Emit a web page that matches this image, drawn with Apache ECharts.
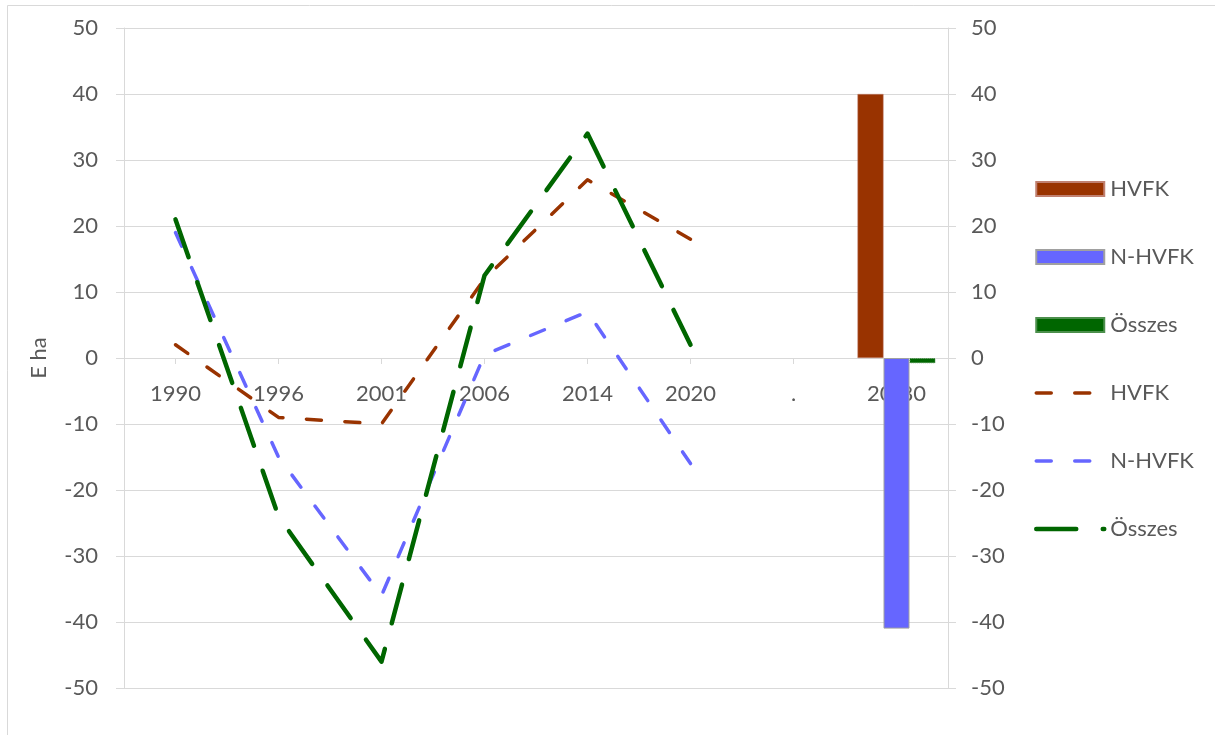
<!DOCTYPE html>
<html>
<head>
<meta charset="utf-8">
<script src="https://cdn.jsdelivr.net/npm/echarts@6/dist/echarts.min.js"></script>
<style>
html,body{margin:0;padding:0;background:#fff;}
#chart{width:1215px;height:735px;}
</style>
</head>
<body>
<div id="chart"></div>
<script>
const categories = ['1990', '1996', '2001', '2006', '2014', '2020', '.', '20-80'];
const hvfkLine   = [2, -9, -10, 12, 27, 18, null, null];
const nhvfkLine  = [19, -15, -36, 0.5, 7, -16, null, null];
const osszesLine = [21, -24, -46, 12.5, 34, 2, null, null];
const hvfkBar    = [null, null, null, null, null, null, null, 40];
const nhvfkBar   = [null, null, null, null, null, null, null, -41];
const osszesBar  = [null, null, null, null, null, null, null, -0.8];
const yTicks = { min: -50, max: 50, interval: 10 };

const FONT = 'Lato';
const TXT = '#595959';
const GRID = '#d9d9d9';
const GRID_TOP = 28, GRID_BOTTOM = 47, H = 735;
// the category axis crosses the value axis at 0 (middle of the -50..50 range)
const plotH = H - GRID_TOP - GRID_BOTTOM;
const zeroOffset = -plotH * (0 - yTicks.min) / (yTicks.max - yTicks.min);

const chart = echarts.init(document.getElementById('chart'));

function lineSeries(name, data, color, width, dash) {
  return {
    name: name, type: 'line', data: data, yAxisIndex: 0,
    symbol: 'none', connectNulls: false, z: 12,
    lineStyle: { color: color, width: width, type: dash, cap: 'round', join: 'round' },
    itemStyle: { color: color }
  };
}
function barSeries(name, data, color, border) {
  return {
    name: name, type: 'bar', data: data, yAxisIndex: 0,
    barWidth: 26, barGap: '0%', z: 10,
    itemStyle: { color: color, borderColor: border.color, borderWidth: border.width, borderType: border.type }
  };
}

const option = {
  backgroundColor: '#ffffff',
  animation: false,
  graphic: [{
    type: 'rect', silent: true, z: 0,
    shape: { x: 7.5, y: 5.5, width: 1400, height: 1000 },
    style: { fill: null, stroke: GRID, lineWidth: 1 }
  }],
  grid: { left: 124, right: 267, top: GRID_TOP, bottom: GRID_BOTTOM, containLabel: false },
  legend: {
    orient: 'vertical', left: 1034, top: 178, padding: 0,
    itemWidth: 68, itemHeight: 14, itemGap: 46,
    textStyle: { fontFamily: FONT, fontSize: 22, color: TXT, lineHeight: 22, padding: [0, 0, 0, 1] },
    lineStyle: { width: 'inherit', type: 'inherit', cap: 'inherit' },
    formatter: function (n) { return n.split(':')[1]; },
    data: [
      { name: 'bar:HVFK', icon: 'rect' },
      { name: 'bar:N-HVFK', icon: 'rect' },
      { name: 'bar:Összes', icon: 'rect' },
      { name: 'line:HVFK', itemStyle: { opacity: 0 } },
      { name: 'line:N-HVFK', itemStyle: { opacity: 0 } },
      { name: 'line:Összes', itemStyle: { opacity: 0 } }
    ]
  },
  xAxis: {
    type: 'category', data: categories, boundaryGap: true, z: 1,
    position: 'bottom', offset: zeroOffset,
    axisLine: { show: true, onZero: false, lineStyle: { color: GRID, width: 1 } },
    axisTick: { show: true, alignWithLabel: true, length: 6, lineStyle: { color: GRID } },
    axisLabel: { interval: 0, margin: 25, fontFamily: FONT, fontSize: 22, color: TXT },
    splitLine: { show: false }
  },
  yAxis: [{
    type: 'value', position: 'left', min: yTicks.min, max: yTicks.max, interval: yTicks.interval,
    name: 'E ha', nameLocation: 'middle', nameGap: 74, nameRotate: 90,
    nameTextStyle: { fontFamily: FONT, fontSize: 22, color: TXT },
    axisLine: { show: true, onZero: false, lineStyle: { color: GRID } },
    axisTick: { show: true, length: 8, lineStyle: { color: GRID } },
    axisLabel: { margin: 26, fontFamily: FONT, fontSize: 22, color: TXT },
    splitLine: { show: true, lineStyle: { color: GRID, width: 1 } }
  }, {
    type: 'value', position: 'right', min: yTicks.min, max: yTicks.max, interval: yTicks.interval,
    axisLine: { show: true, onZero: false, lineStyle: { color: GRID } },
    axisTick: { show: true, length: 8, lineStyle: { color: GRID } },
    axisLabel: { margin: 23, fontFamily: FONT, fontSize: 22, color: TXT },
    splitLine: { show: false }
  }],
  series: [
    barSeries('bar:HVFK', hvfkBar, '#993300', { color: '#c08070', width: 0.5, type: 'solid' }),
    barSeries('bar:N-HVFK', nhvfkBar, '#6666ff', { color: '#a0a0a0', width: 1, type: 'solid' }),
    barSeries('bar:Összes', osszesBar, '#006600', { color: '#4c8f4c', width: 1, type: 'dotted' }),
    lineSeries('line:HVFK', hvfkLine, '#993300', 3.5, [15, 23.5]),
    lineSeries('line:N-HVFK', nhvfkLine, '#6666ff', 3.5, [15, 23.5]),
    lineSeries('line:Összes', osszesLine, '#006600', 4.5, [40, 26.5])
  ]
};
chart.setOption(option);
</script>
</body>
</html>
